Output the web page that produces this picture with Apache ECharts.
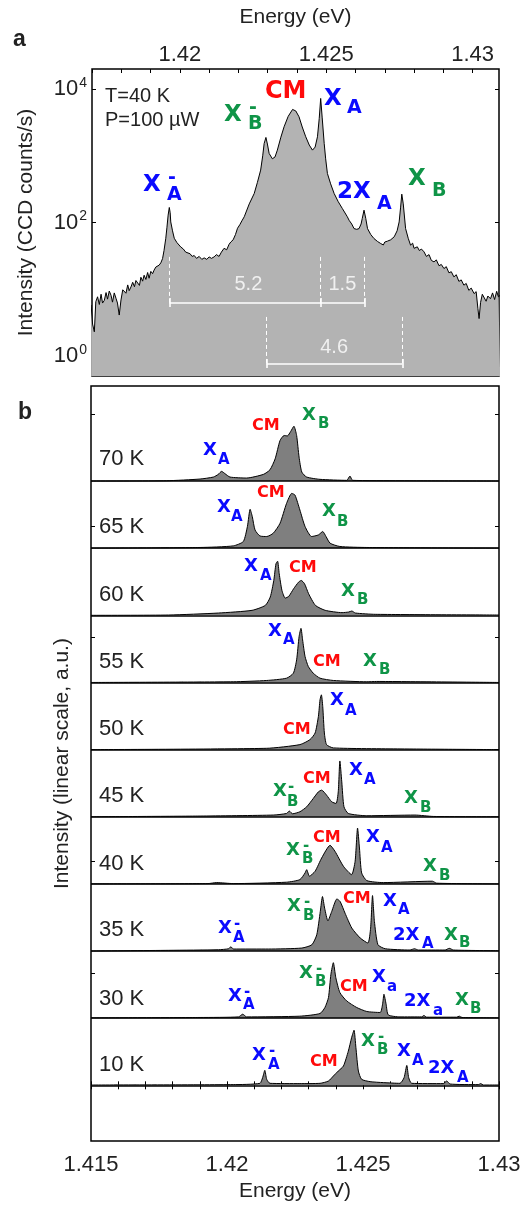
<!DOCTYPE html>
<html>
<head>
<meta charset="utf-8">
<script src="https://cdn.jsdelivr.net/npm/echarts@6/dist/echarts.min.js"></script>
<style>
  html, body { margin: 0; padding: 0; background: #fff; }
  #chart { width: 527px; height: 1207px; }
</style>
</head>
<body>
<div id="chart"></div>
<script>
// ---- panel a : T=40 K spectrum, log scale (energy eV, counts/s)
var specA = [
  [1.41697,5.8],[1.41702,3.0],[1.41708,2.3],[1.41713,6.5],[1.41719,7.7],[1.41725,5.9],[1.41731,8.4],[1.41736,6.2],
  [1.41742,6.8],[1.41748,8.9],[1.41753,7.1],[1.41759,9.4],[1.41765,8.1],[1.41770,6.4],[1.41776,8.8],[1.41782,7.3],
  [1.41787,6.2],[1.41793,4.1],[1.41799,6.9],[1.41805,9.8],[1.41810,10.4],[1.41816,8.7],[1.41822,11.6],[1.41827,9.5],
  [1.41833,10.8],[1.41839,12.7],[1.41845,10.9],[1.41850,13.5],[1.41856,12.9],[1.41862,11.4],[1.41867,15.1],[1.41873,13.2],
  [1.41878,16.2],[1.41884,14.0],[1.41890,17.8],[1.41895,14.6],[1.41901,18.5],[1.41907,17.1],[1.41912,19.3],[1.41918,21.5],
  [1.41924,20.2],[1.41929,22.9],[1.41935,24.8],[1.41941,28.8],[1.41946,38],[1.41952,58],[1.41956,85],[1.41960,129],
  [1.41964,168],[1.41967,140],[1.41969,102],[1.41975,75],[1.41981,58],[1.41990,50],[1.42003,43],[1.42012,40],
  [1.42020,36],[1.42026,37],[1.42035,34],[1.42042,31],[1.42049,32],[1.42057,29],[1.42066,31],[1.42075,28],
  [1.42083,29.5],[1.42092,28],[1.42100,30.5],[1.42108,29],[1.42117,30.5],[1.42125,33],[1.42134,31],[1.42142,36],
  [1.42151,41],[1.42160,39],[1.42168,47],[1.42174,51],[1.42182,55],[1.42190,66],[1.42197,82],[1.42205,93],
  [1.42212,106],[1.42220,122],[1.42237,190],[1.42254,272],[1.42265,400],[1.42276,610],[1.42283,1000],[1.42288,1531],
  [1.42294,1884],[1.42299,1500],[1.42305,1084],[1.42316,902],[1.42325,960],[1.42333,1216],[1.42345,1900],[1.42356,2723],
  [1.42370,3900],[1.42385,4955],[1.42396,4700],[1.42407,3846],[1.42418,2700],[1.42430,1928],[1.42442,1450],[1.42453,1216],
  [1.42462,1350],[1.42470,1928],[1.42476,3600],[1.42481,7244],[1.42486,3800],[1.42493,1531],[1.42498,900],[1.42504,543],
  [1.42515,380],[1.42527,272],[1.42541,205],[1.42555,162],[1.42572,122],[1.42578,108],[1.42587,95],[1.42595,81],
  [1.42604,79],[1.42612,81],[1.42619,95],[1.42623,115],[1.42629,153],[1.42635,115],[1.42641,81],[1.42652,66],
  [1.42663,57.5],[1.42675,52],[1.42686,48.4],[1.42695,46],[1.42700,51],[1.42709,52.5],[1.42720,55],[1.42732,61],
  [1.42742,75],[1.42749,102],[1.42754,170],[1.42758,266],[1.42763,190],[1.42771,81],[1.42780,58],[1.42788,45.7],
  [1.42795,49],[1.42800,41],[1.42811,43.2],[1.42818,38],[1.42825,40],[1.42834,36.3],[1.42842,31],[1.42851,33],
  [1.42859,27],[1.42868,25.7],[1.42876,27.5],[1.42885,22.5],[1.42893,23.5],[1.42902,20.4],[1.42910,21.8],[1.42919,17.6],
  [1.42927,18.3],[1.42936,15.3],[1.42944,16.5],[1.42953,13.1],[1.42961,13.8],[1.42970,11.5],[1.42978,12.2],[1.42987,9.6],
  [1.42995,10.4],[1.43005,8.6],[1.43012,9.2],[1.43018,5.1],[1.43022,3.63],[1.43027,6.3],[1.43033,8.4],[1.43039,8.1],
  [1.43046,6.6],[1.43052,7.9],[1.43061,7.2],[1.43068,8.8],[1.43075,7.0],[1.43082,9.3],[1.43088,7.7],[1.43094,8.1]
];
var logTicksA = [1, 100, 10000];
// peak energies used for the splitting brackets (X-A, XA, 2XA / X-B, XB)
var bracketTop = [1.41964, 1.42481, 1.42631];
var bracketBot = [1.42296, 1.42760];
var splitText = ['5.2', '1.5', '4.6'];
var splitPos = [[1.42234, 11.8], [1.42555, 11.8], [1.42527, 1.32]];

// ---- panel b : spectra vs temperature, linear (energy eV, height a.u.)
var temps = ['70 K', '65 K', '60 K', '55 K', '50 K', '45 K', '40 K', '35 K', '30 K', '10 K'];
var spec70 = [[1.415,0],[1.41778,0.3],[1.41901,2],[1.41950,4],[1.41968,6.7],[1.41980,9.7],[1.41993,7.3],[1.42011,4],[1.42072,3],[1.42134,6.7],[1.42158,11.3],[1.42177,22.3],[1.42195,40.7],[1.42210,45.7],[1.42222,45.3],[1.42234,49.7],[1.42246,55],[1.42256,45.7],[1.42265,24],[1.42275,9],[1.42293,4],[1.42342,1.7],[1.42440,0.7],[1.42452,5],[1.42462,0.7],[1.42636,0.3],[1.43,0]];
var spec65 = [[1.415,0],[1.41901,0.7],[1.42023,2.3],[1.42060,6.7],[1.42075,21.7],[1.42085,39],[1.42093,31.7],[1.42103,18.3],[1.42121,12.3],[1.42146,11.7],[1.42170,15],[1.42195,25],[1.42219,45],[1.42238,55],[1.42250,53.3],[1.42268,38.3],[1.42287,21.7],[1.42311,11.7],[1.42336,13.3],[1.42352,16.7],[1.42364,11.7],[1.42379,5],[1.42415,1.7],[1.42514,0.7],[1.43,0]];
var spec60 = [[1.415,0],[1.41785,0.3],[1.41969,2.3],[1.42092,5],[1.42141,10],[1.42159,18.3],[1.42172,35],[1.42180,51.7],[1.42186,54.3],[1.42192,41.7],[1.42202,25],[1.42214,17.3],[1.42227,19],[1.42245,26.7],[1.42263,33.3],[1.42273,35],[1.42285,31.7],[1.42300,21.7],[1.42325,10],[1.42361,5],[1.42423,2.7],[1.42447,3.3],[1.42459,4.3],[1.42472,2.3],[1.42545,1],[1.43,0.3]];
var spec55 = [[1.415,0],[1.42023,0.7],[1.42146,2],[1.42219,4.3],[1.42244,9.3],[1.42256,22.7],[1.42265,46],[1.42272,54.3],[1.42278,42.7],[1.42287,26],[1.42299,16],[1.42317,9.3],[1.42342,4.3],[1.42391,2],[1.42514,0.7],[1.42550,1],[1.43,0]];
var spec50 = [[1.415,0],[1.42146,1.3],[1.42268,5],[1.42305,10],[1.42324,16.7],[1.42336,33.3],[1.42342,50],[1.42347,55],[1.42352,43.3],[1.42358,16.7],[1.42366,5],[1.42391,1.7],[1.42636,0.7],[1.43,0]];
var spec45 = [[1.415,0],[1.41901,0.7],[1.42170,1.7],[1.42219,3.3],[1.42229,5.7],[1.42241,3],[1.42268,5],[1.42293,10],[1.42317,18.3],[1.42336,25],[1.42348,26.7],[1.42366,21.7],[1.42385,15],[1.42401,13.3],[1.42409,25],[1.42415,56],[1.42422,35],[1.42430,10],[1.42446,3.3],[1.42514,1],[1.42691,1.7],[1.42759,0.3],[1.43,0]];
var spec40 = [[1.415,0],[1.41930,0.3],[1.41962,1.3],[1.42023,0.3],[1.42219,1.7],[1.42268,4.3],[1.42287,11],[1.42293,14.3],[1.42303,7.7],[1.42324,12.7],[1.42348,26],[1.42379,38.7],[1.42397,32.7],[1.42428,17.7],[1.42458,9.3],[1.42471,22.7],[1.42480,56],[1.42487,36],[1.42495,11],[1.42514,3.3],[1.42575,1.3],[1.42755,2.7],[1.42771,0.7],[1.43,0]];
var spec35 = [[1.415,0],[1.41785,0.7],[1.41969,1.3],[1.42006,2.3],[1.42014,4.3],[1.42024,2],[1.42153,2],[1.42275,3],[1.42312,6.3],[1.42330,16.3],[1.42343,39.7],[1.42351,54.7],[1.42359,43],[1.42371,30.3],[1.42385,39.7],[1.42404,52.3],[1.42416,49.7],[1.42434,38],[1.42459,23],[1.42490,13],[1.42518,8],[1.42528,23],[1.42535,55.7],[1.42542,29.7],[1.42555,6.3],[1.42582,2.3],[1.42673,1],[1.42689,2.3],[1.42704,1],[1.42802,1],[1.42817,2.7],[1.42833,1],[1.43,0.3]];
var spec30 = [[1.415,0.3],[1.41901,0.7],[1.42042,1.3],[1.42058,4],[1.42072,1.3],[1.42268,2],[1.42342,4.7],[1.42360,10.7],[1.42373,20.7],[1.42382,44],[1.42391,55.7],[1.42400,40.7],[1.42415,25.7],[1.42440,17.3],[1.42477,10.7],[1.42514,6.7],[1.42563,5.7],[1.42572,14],[1.42577,24],[1.42585,14],[1.42593,3.3],[1.42636,1.3],[1.42716,1.3],[1.42724,2.7],[1.42734,1],[1.42844,1],[1.42854,2],[1.42864,0.7],[1.43,0.3]];
var spec10 = [[1.415,0.3],[1.42023,0.7],[1.42121,2],[1.42131,7.7],[1.42139,15],[1.42146,6],[1.42158,2],[1.42268,1.7],[1.42342,2],[1.42373,4.3],[1.42391,9.3],[1.42409,14.3],[1.42428,19.3],[1.42446,34.3],[1.42458,47.7],[1.42467,55.3],[1.42474,37.7],[1.42483,14.3],[1.42495,6],[1.42526,3.7],[1.42575,2.7],[1.42636,2],[1.42651,7.7],[1.42661,20],[1.42668,7.7],[1.42679,2],[1.42795,1.7],[1.42808,4.3],[1.42820,1.3],[1.42924,0.7],[1.42933,1.7],[1.42942,0.3],[1.43,0.3]];
var spectraB = [spec70, spec65, spec60, spec55, spec50, spec45, spec40, spec35, spec30, spec10];
var slot = 67.4;   // vertical offset between stacked spectra
var yTicksB = [112.3, 224.7, 337, 449.3, 561.7, 674];

var BLUE = '#0a0aff', RED = '#ff0a0a', GREEN = '#0f9447';
var AX = 'Liberation Sans', LF = '"DejaVu Sans"';

// peak labels: main text, left x, baseline y, sub text + position, optional superscript '-'
var labelsA = [
  { t: 'X', x: 224, y: 123, c: GREEN, sub: 'B', sx: 248, sy: 131, sup: true },
  { t: 'CM', x: 265, y: 100, c: RED },
  { t: 'X', x: 324, y: 107, c: BLUE, sub: 'A', sx: 347, sy: 115 },
  { t: 'X', x: 143, y: 193, c: BLUE, sub: 'A', sx: 167, sy: 202, sup: true },
  { t: '2X', x: 337, y: 200, c: BLUE, sub: 'A', sx: 377, sy: 211 },
  { t: 'X', x: 408, y: 187, c: GREEN, sub: 'B', sx: 432, sy: 198 }
];
var labelsB = [
  { t: 'X', x: 203, y: 457, c: BLUE, sub: 'A', sx: 218, sy: 465 },
  { t: 'CM', x: 252, y: 431, c: RED },
  { t: 'X', x: 302, y: 422, c: GREEN, sub: 'B', sx: 318, sy: 429 },
  { t: 'X', x: 217, y: 514, c: BLUE, sub: 'A', sx: 231, sy: 522 },
  { t: 'CM', x: 257, y: 498, c: RED },
  { t: 'X', x: 322, y: 518, c: GREEN, sub: 'B', sx: 337, sy: 527 },
  { t: 'X', x: 244, y: 573, c: BLUE, sub: 'A', sx: 260, sy: 581 },
  { t: 'CM', x: 289, y: 573, c: RED },
  { t: 'X', x: 341, y: 598, c: GREEN, sub: 'B', sx: 357, sy: 605 },
  { t: 'X', x: 268, y: 638, c: BLUE, sub: 'A', sx: 283, sy: 645 },
  { t: 'CM', x: 313, y: 667, c: RED },
  { t: 'X', x: 363, y: 668, c: GREEN, sub: 'B', sx: 379, sy: 675 },
  { t: 'X', x: 330, y: 707, c: BLUE, sub: 'A', sx: 345, sy: 716 },
  { t: 'CM', x: 283, y: 735, c: RED },
  { t: 'X', x: 273, y: 798, c: GREEN, sub: 'B', sx: 287, sy: 807, sup: true },
  { t: 'CM', x: 303, y: 784, c: RED },
  { t: 'X', x: 349, y: 777, c: BLUE, sub: 'A', sx: 364, sy: 785 },
  { t: 'X', x: 404, y: 805, c: GREEN, sub: 'B', sx: 420, sy: 813 },
  { t: 'X', x: 286, y: 857, c: GREEN, sub: 'B', sx: 302, sy: 864, sup: true },
  { t: 'CM', x: 313, y: 843, c: RED },
  { t: 'X', x: 366, y: 844, c: BLUE, sub: 'A', sx: 381, sy: 853 },
  { t: 'X', x: 423, y: 873, c: GREEN, sub: 'B', sx: 439, sy: 881 },
  { t: 'X', x: 218, y: 935, c: BLUE, sub: 'A', sx: 233, sy: 943, sup: true },
  { t: 'X', x: 287, y: 913, c: GREEN, sub: 'B', sx: 303, sy: 921, sup: true },
  { t: 'CM', x: 343, y: 904, c: RED },
  { t: 'X', x: 383, y: 908, c: BLUE, sub: 'A', sx: 398, sy: 915 },
  { t: '2X', x: 393, y: 942, c: BLUE, sub: 'A', sx: 422, sy: 949 },
  { t: 'X', x: 444, y: 942, c: GREEN, sub: 'B', sx: 459, sy: 948 },
  { t: 'X', x: 228, y: 1003, c: BLUE, sub: 'A', sx: 243, sy: 1010, sup: true },
  { t: 'X', x: 299, y: 980, c: GREEN, sub: 'B', sx: 315, sy: 987, sup: true },
  { t: 'CM', x: 340, y: 992, c: RED },
  { t: 'X', x: 372, y: 984, c: BLUE, sub: 'a', sx: 387, sy: 992 },
  { t: '2X', x: 404, y: 1008, c: BLUE, sub: 'a', sx: 433, sy: 1016 },
  { t: 'X', x: 455, y: 1007, c: GREEN, sub: 'B', sx: 470, sy: 1014 },
  { t: 'X', x: 252, y: 1062, c: BLUE, sub: 'A', sx: 268, sy: 1070, sup: true },
  { t: 'CM', x: 310, y: 1067, c: RED },
  { t: 'X', x: 361, y: 1048, c: GREEN, sub: 'B', sx: 377, sy: 1055, sup: true },
  { t: 'X', x: 397, y: 1058, c: BLUE, sub: 'A', sx: 412, sy: 1066 },
  { t: '2X', x: 428, y: 1075, c: BLUE, sub: 'A', sx: 457, sy: 1083 }
];
var tempLabelY = [467, 535, 603, 670, 737, 804, 872, 938, 1007, 1073];

function txt(s, x, baseline, size, color, family, weight) {
  return {
    type: 'text', x: x, y: baseline - 0.35 * size, silent: true, z: 100,
    style: { text: s, fill: color, font: (weight || 'normal') + ' ' + size + 'px ' + family, verticalAlign: 'middle', align: 'left' }
  };
}
// sizes: [main X, CM, subscript]
function peakLabel(o, sz) {
  var out = [];
  out.push(txt(o.t, o.x, o.y, o.t === 'CM' ? sz[1] : sz[0], o.c, LF, 'bold'));
  if (o.sub) out.push(txt(o.sub, o.sx, o.sy, sz[2], o.c, LF, 'bold'));
  if (o.sup) {
    out.push({
      type: 'text', x: o.sx + 1, y: o.y - 0.73 * sz[0] + 2, silent: true, z: 100,
      style: { text: '-', fill: o.c, font: 'bold ' + sz[2] + 'px ' + LF, verticalAlign: 'middle', align: 'left' }
    });
  }
  return out;
}

var graphics = [];
labelsA.forEach(function (o) { graphics = graphics.concat(peakLabel(o, [23, 24, 19])); });
labelsB.forEach(function (o) { graphics = graphics.concat(peakLabel(o, [18, 16, 15])); });
temps.forEach(function (t, i) { graphics.push(txt(t, 99, tempLabelY[i], 22, '#222', AX)); });
graphics.push(txt('T=40 K', 105, 103, 20, '#222', AX));
graphics.push(txt('P=100 \u00b5W', 105, 127, 20, '#222', AX));
graphics.push(txt('a', 13, 48, 23, '#222', AX, 'bold'));
graphics.push(txt('b', 18, 421, 23, '#222', AX, 'bold'));

function eLabel(v) {
  var m = Math.round(v * 1000);
  return m % 5 === 0 ? String(+(m / 1000).toFixed(3)) : '';
}
var tickIn = { inside: true, length: 4, lineStyle: { color: '#000', width: 1 } };
var lblStyle = { color: '#222', fontSize: 22, fontFamily: AX };
var nameStyle = { color: '#222', fontSize: 21, fontFamily: AX };

// bracket marklines in panel a
var white = { color: '#fff', width: 1.6, type: 'solid' };
var dash = { color: '#fff', width: 1, type: [4, 3] };
var marks = [];
bracketTop.forEach(function (e) {
  marks.push([{ coord: [e, 30.5], lineStyle: dash }, { coord: [e, 6.3] }]);
  marks.push([{ coord: [e, 7.4], lineStyle: white }, { coord: [e, 5.4] }]);
});
marks.push([{ coord: [bracketTop[0], 6.3], lineStyle: white }, { coord: [bracketTop[2], 6.3] }]);
bracketBot.forEach(function (e) {
  marks.push([{ coord: [e, 3.84], lineStyle: dash }, { coord: [e, 0.77] }]);
  marks.push([{ coord: [e, 0.9], lineStyle: white }, { coord: [e, 0.66] }]);
});
marks.push([{ coord: [bracketBot[0], 0.77], lineStyle: white }, { coord: [bracketBot[1], 0.77] }]);

var series = [{
  type: 'line', xAxisIndex: 0, yAxisIndex: 0, data: specA, showSymbol: false,
  lineStyle: { color: '#000', width: 1 },
  areaStyle: { color: '#b3b3b3', opacity: 1, origin: 'start' },
  markLine: { silent: true, symbol: 'none', label: { show: false }, animation: false, data: marks },
  z: 2
}, {
  type: 'scatter', xAxisIndex: 0, yAxisIndex: 0, symbolSize: 1,
  itemStyle: { color: 'rgba(0,0,0,0)' },
  data: splitPos.map(function (p, i) { return [p[0], p[1], splitText[i]]; }),
  label: { show: true, position: 'inside', color: '#fff', fontSize: 20, fontFamily: AX, formatter: function (p) { return p.value[2]; } },
  z: 5
}];

spectraB.forEach(function (s, i) {
  var base = (spectraB.length - 1 - i) * slot;
  series.push({
    type: 'line', xAxisIndex: 2, yAxisIndex: 2, showSymbol: false, smooth: 0.2,
    data: s.map(function (p) { return [p[0], base + p[1]]; }),
    lineStyle: { color: '#000', width: 1 },
    areaStyle: { color: '#7f7f7f', opacity: 1, origin: base },
    markLine: { silent: true, symbol: 'none', label: { show: false }, animation: false,
      lineStyle: { color: '#000', width: 1.5, type: 'solid' }, data: [{ yAxis: base }] },
    z: 2
  });
});

var chart = echarts.init(document.getElementById('chart'), null, { renderer: 'canvas' });
chart.setOption({
  animation: false,
  backgroundColor: '#fff',
  textStyle: { fontFamily: AX },
  grid: [
    { left: 92, top: 69, width: 407, height: 307, show: true, borderColor: '#000', borderWidth: 1.5, backgroundColor: 'transparent' },
    { left: 91, top: 386, width: 408, height: 758, show: true, borderColor: '#000', borderWidth: 1.5, backgroundColor: 'transparent' }
  ],
  xAxis: [
    { type: 'value', gridIndex: 0, position: 'top', min: 1.417, max: 1.4309, interval: 0.001,
      name: 'Energy (eV)', nameLocation: 'middle', nameGap: 41, nameTextStyle: nameStyle,
      axisLine: { show: false }, axisTick: tickIn, splitLine: { show: false },
      axisLabel: Object.assign({ margin: 3, formatter: eLabel, showMaxLabel: false }, lblStyle) },
    { type: 'value', gridIndex: 0, position: 'bottom', min: 1.417, max: 1.4309, interval: 0.001,
      axisLine: { show: false }, axisTick: tickIn, splitLine: { show: false }, axisLabel: { show: false } },
    { type: 'value', gridIndex: 1, position: 'bottom', min: 1.415, max: 1.43, interval: 0.001,
      name: 'Energy (eV)', nameLocation: 'middle', nameGap: 38, nameTextStyle: nameStyle,
      axisLine: { show: false }, axisTick: tickIn, splitLine: { show: false },
      axisLabel: Object.assign({ margin: 13, formatter: eLabel }, lblStyle) },
    { type: 'value', gridIndex: 1, position: 'top', min: 1.415, max: 1.43, interval: 0.001,
      axisLine: { show: false }, axisTick: tickIn, splitLine: { show: false }, axisLabel: { show: false } }
  ],
  yAxis: [
    { type: 'log', logBase: 10, gridIndex: 0, position: 'left', min: 0.5, max: 20000,
      name: 'Intensity (CCD counts/s)', nameLocation: 'middle', nameGap: 55, nameTextStyle: nameStyle,
      axisLine: { show: false }, splitLine: { show: false }, minorTick: { show: false },
      axisTick: Object.assign({ customValues: logTicksA }, tickIn),
      axisLabel: { customValues: logTicksA, margin: 5,
        formatter: function (v) { return '{n|10}{e|' + Math.round(Math.log10(v)) + '}'; },
        rich: { n: { fontSize: 22, fontFamily: AX, color: '#222' },
                e: { fontSize: 14, fontFamily: AX, color: '#222', padding: [0, 0, 12, 1] } } } },
    { type: 'log', logBase: 10, gridIndex: 0, position: 'right', min: 0.5, max: 20000,
      axisLine: { show: false }, splitLine: { show: false },
      axisTick: Object.assign({ customValues: logTicksA }, tickIn), axisLabel: { show: false } },
    { type: 'value', gridIndex: 1, position: 'left', min: -56, max: 702,
      name: 'Intensity (linear scale, a.u.)', nameLocation: 'middle', nameGap: 18, nameTextStyle: nameStyle,
      axisLine: { show: false }, splitLine: { show: false },
      axisTick: Object.assign({ customValues: yTicksB }, tickIn), axisLabel: { show: false } },
    { type: 'value', gridIndex: 1, position: 'right', min: -56, max: 702,
      axisLine: { show: false }, splitLine: { show: false },
      axisTick: Object.assign({ customValues: yTicksB }, tickIn), axisLabel: { show: false } }
  ],
  series: series,
  graphic: graphics
});
</script>
</body>
</html>
